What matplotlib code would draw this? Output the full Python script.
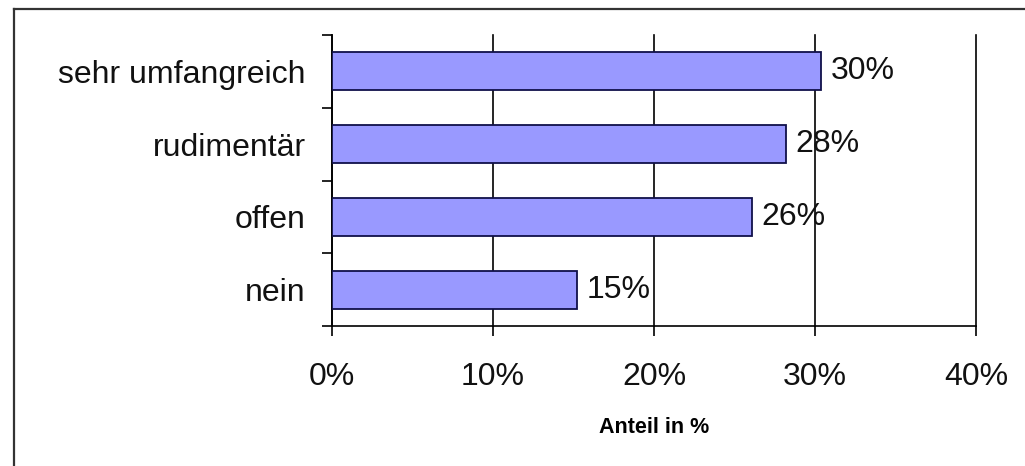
import matplotlib
matplotlib.use("Agg")
import matplotlib.pyplot as plt
from matplotlib.lines import Line2D

# Survey answers, bottom to top as drawn
categories = ["nein", "offen", "rudimentär", "sehr umfangreich"]
shares = [15.2, 26.1, 28.2, 30.4]
x_ticks = [0, 10, 20, 30, 40]
x_tick_labels = ["0%", "10%", "20%", "30%", "40%"]

plt.rcParams["font.family"] = ["Liberation Sans", "DejaVu Sans"]

W, H = 1025, 466
fig = plt.figure(figsize=(W / 100, H / 100), dpi=100)
ax = fig.add_axes([332 / W, 1 - 326 / H, (976 - 332) / W, (326 - 35) / H])

ypos = list(range(len(categories)))
ax.barh(ypos, shares, height=0.52, color="#9999ff", edgecolor="#10104a",
        linewidth=1.3, zorder=3)

for y, v in zip(ypos, shares):
    ax.text(v + 0.6, y, f"{v:.0f}%", va="center", ha="left", fontsize=23,
            color="#111111", zorder=4)

ax.set_xlim(0, 40)
ax.set_ylim(-0.5, len(categories) - 0.5)

ax.set_xticks(x_ticks)
ax.set_xticklabels(x_tick_labels, fontsize=23, color="#111111")
ax.tick_params(axis="x", direction="out", length=7, width=1.2, pad=19)

ax.set_yticks(ypos)
ax.set_yticklabels(categories, fontsize=23, color="#111111")
ax.tick_params(axis="y", which="major", length=0, pad=19)
ax.set_yticks([i - 0.5 for i in range(len(categories) + 1)], minor=True)
ax.tick_params(axis="y", which="minor", direction="out", length=7, width=1.2)

ax.xaxis.grid(True, color="black", linewidth=1.2, zorder=1)
ax.set_axisbelow(True)
for gl in ax.get_xgridlines():
    gl.set_clip_on(False)

for side in ("top", "right"):
    ax.spines[side].set_visible(False)
for side in ("left", "bottom"):
    ax.spines[side].set_linewidth(1.2)

ax.set_xlabel("Anteil in %", fontsize=15.5, fontweight="bold", labelpad=18)

# frame around the chart area, open to the right and bottom
fig.add_artist(Line2D([14 / W, 1.0], [1 - 9 / H, 1 - 9 / H], color="#333333",
                      linewidth=1.6, transform=fig.transFigure))
fig.add_artist(Line2D([14 / W, 14 / W], [0.0, 1 - 9 / H], color="#333333",
                      linewidth=1.6, transform=fig.transFigure))

fig.savefig("out.png", dpi=100)
